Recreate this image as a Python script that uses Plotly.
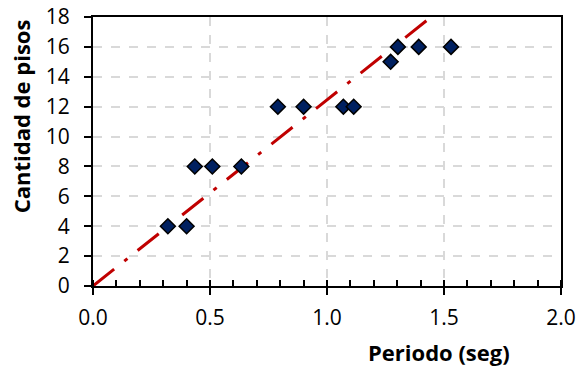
import plotly.graph_objects as go

periodo = [0.32, 0.40, 0.435, 0.51, 0.634, 0.79, 0.90, 1.07, 1.114, 1.272, 1.303, 1.392, 1.53]
pisos = [4, 4, 8, 8, 8, 12, 12, 12, 12, 15, 16, 16, 16]

fit_x = [0.0, 1.445]
fit_y = [0, 18]

x_ticks = [0.0, 0.5, 1.0, 1.5, 2.0]
y_ticks = list(range(0, 19, 2))

fig = go.Figure()
fig.add_trace(go.Scatter(
    x=fit_x, y=fit_y, mode="lines",
    line=dict(color="#C00000", width=3, dash="27px,13px,4px,13px"),
    hoverinfo="skip", showlegend=False))
fig.add_trace(go.Scatter(
    x=periodo, y=pisos, mode="markers",
    marker=dict(symbol="diamond", size=11.5, color="#002060",
                line=dict(color="black", width=1.5)),
    showlegend=False))

font_ticks = dict(family="Open Sans", size=21, color="black")

fig.update_xaxes(
    range=[0, 2], tickvals=x_ticks, ticktext=[f"{v:.1f}" for v in x_ticks],
    showline=True, linecolor="black", linewidth=2, mirror=True,
    ticks="outside", ticklen=7, tickwidth=2, tickcolor="black",
    minor=dict(dtick=0.1, ticks="inside", ticklen=6, tickwidth=1.5, tickcolor="black", showgrid=False),
    showgrid=True, gridcolor="#D9D9D9", gridwidth=1.5, griddash="dash",
    zeroline=False, tickfont=font_ticks, automargin=False, ticklabelstandoff=5)
fig.update_yaxes(
    range=[0, 18], tickvals=y_ticks,
    showline=True, linecolor="black", linewidth=2, mirror=True,
    ticks="outside", ticklen=7, tickwidth=2, tickcolor="black",
    showgrid=True, gridcolor="#D9D9D9", gridwidth=1.5, griddash="dash",
    zeroline=False, tickfont=font_ticks, automargin=False, ticklabelstandoff=10)

fig.add_annotation(text="<b>Periodo (seg)</b>", xref="paper", yref="paper",
                   x=0.739, y=0, yshift=-66, xanchor="center", yanchor="middle",
                   showarrow=False, font=dict(family="Open Sans", size=22, color="black"))
fig.add_annotation(text="<b>Cantidad de pisos</b>", xref="paper", yref="paper",
                   x=0, xshift=-72, y=0.631, xanchor="center", yanchor="middle", textangle=-90,
                   showarrow=False, font=dict(family="Open Sans", size=22, color="black"))

fig.update_layout(
    width=577, height=366,
    margin=dict(l=93, r=16, t=17, b=80),
    paper_bgcolor="white", plot_bgcolor="white",
)
fig.write_html("out.html")
